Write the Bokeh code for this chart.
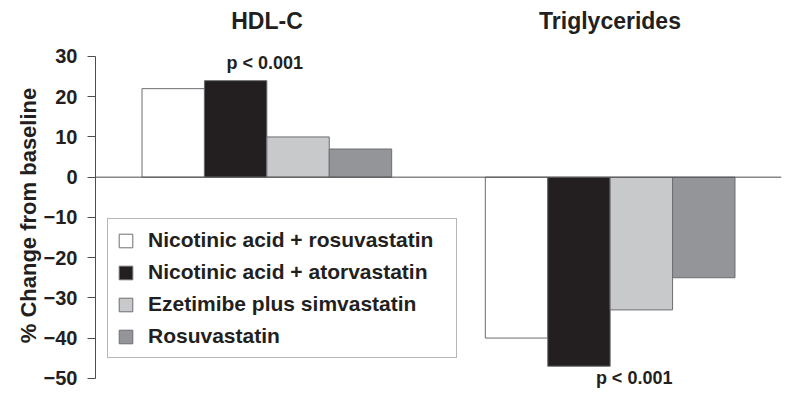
from bokeh.plotting import figure
from bokeh.models import (FactorRange, ColumnDataSource, LabelSet, Span,
                          FixedTicker, Range1d, CategoricalAxis)
from bokeh.core.properties import value
from bokeh.embed import file_html
from bokeh.resources import INLINE

# ---- data ----
groups = ["HDL-C", "Triglycerides"]
treatments = ["Nicotinic acid + rosuvastatin",
              "Nicotinic acid + atorvastatin",
              "Ezetimibe plus simvastatin",
              "Rosuvastatin"]
hdl_change = [22, 24, 10, 7]
tg_change = [-40, -47, -33, -25]
y_ticks = [-50, -40, -30, -20, -10, 0, 10, 20, 30]
p_labels = ["p < 0.001", "p < 0.001"]
p_label_y = [28.4, -49.9]

# ---- styles ----
fills = ["#ffffff", "#231f20", "#c8c9cb", "#939598"]
p_label_dx = [-2, 24]
FONT = "Liberation Sans"
TXT = "#231f20"
EDGE = "#6d6e71"
AXC = "#4d4d4f"

factors = [(g, t) for g in groups for t in treatments]

p = figure(width=784, height=394,
           x_range=FactorRange(factors=factors, group_padding=1.5,
                               range_padding=0.745,
                               range_padding_units="absolute"),
           y_range=Range1d(-54.03, 34.97),
           x_axis_location=None,
           output_backend="svg", toolbar_location=None,
           min_border_left=95, min_border_right=3,
           min_border_top=36, min_border_bottom=0,
           outline_line_color=None)
p.grid.visible = False

for i, t in enumerate(treatments):
    src = ColumnDataSource(dict(x=[(g, t) for g in groups],
                                top=[hdl_change[i], tg_change[i]]))
    p.vbar(x="x", top="top", bottom=0, width=1.0, source=src,
           fill_color=fills[i], line_color=EDGE, line_width=1,
           legend_label=t)

p.add_layout(Span(location=0, dimension="width", line_color=AXC,
                  line_width=1))

# group titles via a categorical axis (group-level range) above the frame
p.extra_x_ranges = {"groups": FactorRange(factors=groups, range_padding=0)}
top_axis = CategoricalAxis(x_range_name="groups",
                           axis_line_color=None,
                           major_tick_line_color=None,
                           minor_tick_line_color=None,
                           major_tick_out=0, major_tick_in=0,
                           major_label_standoff=3,
                           major_label_text_font=FONT,
                           major_label_text_font_style="bold",
                           major_label_text_font_size="23px",
                           major_label_text_color=TXT)
p.add_layout(top_axis, "above")

ax = p.yaxis[0]
ax.ticker = FixedTicker(ticks=y_ticks)
ax.bounds = (-50, 30)
ax.axis_line_color = AXC
ax.major_tick_line_color = AXC
ax.major_tick_out = 8
ax.major_tick_in = 0
ax.minor_tick_out = 0
ax.minor_tick_in = 0
ax.major_label_text_font = FONT
ax.major_label_text_font_style = "bold"
ax.major_label_text_font_size = "20px"
ax.major_label_text_color = TXT
ax.major_label_standoff = 10
ax.axis_label = "% Change from baseline"
ax.axis_label_text_font = FONT
ax.axis_label_text_font_style = "bold"
ax.axis_label_text_font_size = "22px"
ax.axis_label_text_color = TXT
ax.axis_label_standoff = 0

p_src = ColumnDataSource(dict(x=groups, y=p_label_y, text=p_labels,
                              dx=p_label_dx))
p.add_layout(LabelSet(x="x", y="y", text="text", x_offset="dx",
                      source=p_src, text_align="center",
                      text_baseline="middle", text_font=value(FONT),
                      text_font_style="bold", text_font_size="18px",
                      text_color=TXT))

lg = p.legend[0]
lg.location = (12, 36)
lg.label_text_font = FONT
lg.label_text_font_style = "bold"
lg.label_text_font_size = "21px"
lg.label_text_color = TXT
lg.glyph_width = 17
lg.glyph_height = 17
lg.label_height = 20
lg.label_width = 299
lg.spacing = 8
lg.padding = 9
lg.margin = 0
lg.label_standoff = 14
lg.border_line_color = EDGE
lg.border_line_width = 1
lg.background_fill_color = "#ffffff"
lg.background_fill_alpha = 1

open("out.html", "w").write(file_html(p, INLINE))
